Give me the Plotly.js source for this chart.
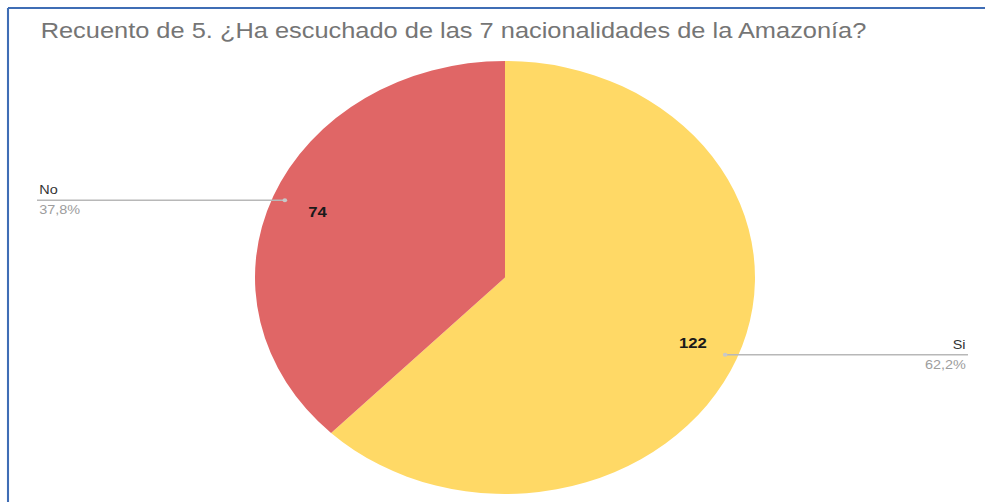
<!DOCTYPE html>
<html>
<head>
<meta charset="utf-8">
<script src="https://cdn.plot.ly/plotly-3.0.1.min.js"></script>
<style>
html,body{margin:0;padding:0;background:#fff;overflow:hidden;}
#chart{position:absolute;left:0;top:0;transform-origin:0 0;}
</style>
</head>
<body>
<div id="chart"></div>
<script>
const chartTitle = "Recuento de 5. ¿Ha escuchado de las 7 nacionalidades de la Amazonía?";
const categories = ["No", "Si"];
const values = [74, 122];
const percentLabels = ["37,8%", "62,2%"];
const colors = ["#e06666", "#ffd966"];

// The reference picture is stretched horizontally; draw at a narrower width and stretch.
const W = 985, H = 502;
const cx = 505, cy = 277.5, ry = 216.5, rx = 250;
const sx = rx / ry;
const Wv = W / sx;
const el = document.getElementById("chart");
el.style.width = Wv + "px";
el.style.height = H + "px";
el.style.transform = `scaleX(${sx})`;

const px = x => x / W;          // real-pixel x -> paper
const py = y => 1 - y / H;
const FONT = "Liberation Sans, Arial, sans-serif";

const total = values.reduce((a, b) => a + b, 0);
let cum = 0;
const annotations = [];
const shapes = [];
values.forEach((v, i) => {
  const mid = (cum + v / 2) / total * 2 * Math.PI;   // counterclockwise from 12 o'clock
  cum += v;
  const ux = -Math.sin(mid), uy = Math.cos(mid);
  const vx = cx + 0.81 * rx * ux, vy = cy - 0.81 * ry * uy;
  annotations.push({
    xref: "paper", yref: "paper", x: px(vx), y: py(vy),
    text: "<b>" + values[i] + "</b>", showarrow: false,
    font: {family: FONT, size: 14.5, color: "#1a1a1a"},
    xanchor: "center", yanchor: "middle"
  });
  const lx = cx + 0.95 * rx * ux, ly = cy - 0.95 * ry * uy;
  const left = ux < 0;
  const endX = left ? 37 : 968;
  shapes.push({
    type: "line", xref: "paper", yref: "paper",
    x0: px(lx), y0: py(ly), x1: px(endX), y1: py(ly),
    line: {color: "#b8b8b8", width: 1.5}
  });
  shapes.push({
    type: "circle", xref: "paper", yref: "paper",
    x0: px(lx - 2.3), y0: py(ly - 2), x1: px(lx + 2.3), y1: py(ly + 2),
    fillcolor: "#c8c8c8", line: {width: 0}
  });
  annotations.push({
    xref: "paper", yref: "paper", x: px(endX), y: py(ly - 1),
    text: categories[i], showarrow: false,
    font: {family: FONT, size: 12.5, color: "#333"},
    xanchor: left ? "left" : "right", yanchor: "bottom"
  });
  annotations.push({
    xref: "paper", yref: "paper", x: px(endX), y: py(ly + 1),
    text: percentLabels[i], showarrow: false,
    font: {family: FONT, size: 12.5, color: "#9d9d9d"},
    xanchor: left ? "left" : "right", yanchor: "top"
  });
});

annotations.push({
  xref: "paper", yref: "paper", x: px(38), y: py(31),
  text: chartTitle, showarrow: false,
  font: {family: FONT, size: 22, color: "#757575"},
  xanchor: "left", yanchor: "middle"
});

// frame (top and left border)
shapes.push({type: "line", xref: "paper", yref: "paper", x0: px(8), y0: py(8), x1: px(985), y1: py(8),
  line: {color: "#3f6db5", width: 2}});
shapes.push({type: "line", xref: "paper", yref: "paper", x0: px(8), y0: py(8), x1: px(8), y1: py(502),
  line: {color: "#3f6db5", width: 1.8}});

// trace order reversed + clockwise => "No" sits counterclockwise from 12 o'clock
const data = [{
  type: "pie",
  labels: categories.slice().reverse(),
  values: values.slice().reverse(),
  sort: false,
  direction: "clockwise",
  rotation: 0,
  marker: {colors: colors.slice().reverse(), line: {width: 0}},
  textinfo: "none",
  hoverinfo: "label+value+percent",
  showlegend: false,
  domain: {x: [px(cx - rx), px(cx + rx)], y: [py(cy + ry), py(cy - ry)]}
}];

const layout = {
  width: Wv, height: H,
  margin: {l: 0, r: 0, t: 0, b: 0},
  paper_bgcolor: "#ffffff",
  showlegend: false,
  annotations: annotations,
  shapes: shapes
};

Plotly.newPlot("chart", data, layout, {displayModeBar: false, staticPlot: true});
</script>
</body>
</html>
